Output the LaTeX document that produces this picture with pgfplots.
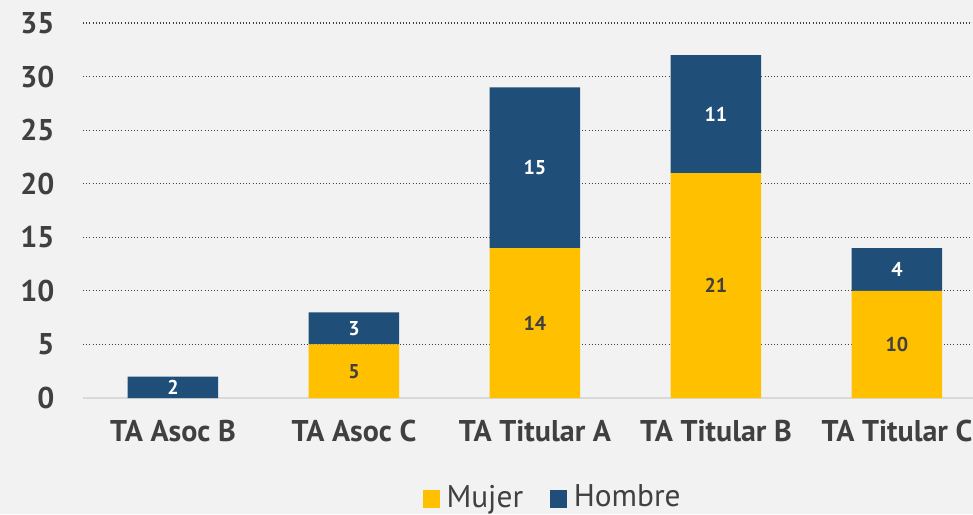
\documentclass[border=0pt]{standalone}
\usepackage{pgfplots}
\pgfplotsset{compat=1.18}
\usepackage{fontspec}
\setmainfont{PT Sans}
\usetikzlibrary{backgrounds}
\definecolor{mujer}{HTML}{FFC000}
\definecolor{hombre}{HTML}{1F4E79}
\definecolor{txt}{HTML}{404040}
\definecolor{bg}{HTML}{F2F2F2}
\definecolor{base}{HTML}{D9D9D9}
\pgfplotsset{sq legend/.style={legend image code/.code={\fill[##1] (0pt,-8pt) rectangle (13pt,5pt);}}}

\begin{document}
\begin{tikzpicture}
\begin{axis}[
  scale only axis, width=667.5pt, height=281.25pt,
  ybar stacked, bar width=0.5,
  xmin=-0.497, xmax=4.42, ymin=0, ymax=35,
  xtick={0,...,4},
  xticklabels={TA Asoc B, TA Asoc C, TA Titular A, TA Titular B, TA Titular C},
  ytick={0,5,...,35},
  ymajorgrids, grid style={txt, dotted, line width=0.9pt},
  axis x line*=bottom, axis y line*=left,
  y axis line style={draw=none},
  x axis line style={-, draw=base, line width=1.5pt},
  major tick length=0pt,
  tick label style={font=\fontsize{22.5}{26}\selectfont\bfseries, text=txt},
  yticklabel style={xshift=-18pt},
  xticklabel style={yshift=-13pt},
  /pgf/number format/assume math mode=true,
  point meta=explicit symbolic,
  nodes near coords={\ifnum\pgfplotspointmeta=0 \else\pgfplotspointmeta\fi},
  every node near coord/.append style={anchor=center,
    font=\fontsize{15}{17}\selectfont\bfseries},
  legend style={at={(0.528,-0.264)}, anchor=center, draw=none, fill=none,
    legend columns=-1, font=\fontsize{23.5}{27}\selectfont, text=txt,
    /tikz/every even column/.append style={column sep=18pt},
    /tikz/every odd column/.append style={column sep=3pt}},
]
\addplot[fill=mujer, draw=none, sq legend,
  every node near coord/.append style={text=txt}]
  coordinates {(0,0)[0] (1,5)[5] (2,14)[14] (3,21)[21] (4,10)[10]};
\addplot[fill=hombre, draw=none, sq legend,
  every node near coord/.append style={text=white}]
  coordinates {(0,2)[2] (1,3)[3] (2,15)[15] (3,11)[11] (4,4)[4]};
\legend{Mujer, Hombre}
\coordinate (bl) at (rel axis cs:0,0);
\end{axis}
\pgfresetboundingbox
\path[use as bounding box] (bl) ++(-62.25pt,-87pt) rectangle ++(729.75pt,385.5pt);
\begin{scope}[on background layer]
\fill[bg] (bl) ++(-62.25pt,-87pt) rectangle ++(729.75pt,385.5pt);
\end{scope}
\end{tikzpicture}
\end{document}
